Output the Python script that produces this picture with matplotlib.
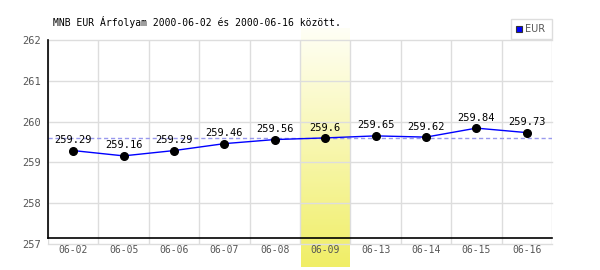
import matplotlib
matplotlib.use("Agg")
import matplotlib.pyplot as plt
import numpy as np
from matplotlib.colors import LinearSegmentedColormap
from matplotlib.patches import Rectangle

TITLE = "MNB EUR Árfolyam 2000-06-02 és 2000-06-16 között."
dates = ["06-02", "06-05", "06-06", "06-07", "06-08", "06-09", "06-13", "06-14", "06-15", "06-16"]
rates = [259.29, 259.16, 259.29, 259.46, 259.56, 259.6, 259.65, 259.62, 259.84, 259.73]
highlight_idx = 5
y_ticks = [257, 258, 259, 260, 261, 262]

MONO = "DejaVu Sans Mono"
GRID = "#dddddd"
W, H = 600, 270

fig = plt.figure(figsize=(6, 2.7), dpi=100)
ax = fig.add_axes([48 / W, 1 - 244 / H, 504 / W, 204 / H])
ax.set_xlim(-0.5, len(dates) - 0.5)
ax.set_ylim(y_ticks[0], y_ticks[-1])

# yellow gradient column behind the highlighted day (runs past the axes)
grad = LinearSegmentedColormap.from_list("hl", ["#fffff6", "#f0ee66"])
gax = fig.add_axes([301 / W, 1 - 267 / H, 49 / W, 239 / H], zorder=0)
gax.imshow(np.linspace(0, 1, 256).reshape(-1, 1), aspect="auto", cmap=grad, origin="upper")
gax.axis("off")
ax.set_zorder(1)
ax.patch.set_alpha(0)

# grid
for k in range(len(dates) + 1):
    ax.axvline(k - 0.5, color=GRID, lw=1, zorder=1)
for v in y_ticks:
    ax.axhline(v, color=GRID, lw=1, zorder=1, clip_on=False)

# reference line at the highlighted day's rate
ax.axhline(rates[highlight_idx], color="#9999ee", lw=1, ls=(0, (3, 2)), zorder=2)

x = np.arange(len(dates))
ax.plot(x, rates, color="#0000ff", lw=1, zorder=3)
ax.plot(x, rates, "o", color="black", ms=5.5, zorder=4)
for xi, r in zip(x, rates):
    ax.annotate(f"{r:g}", (xi, r), xytext=(0, 7.5), textcoords="offset points",
                ha="center", va="center", family=MONO, fontsize=7.5, color="black", zorder=5)

# axes lines: left spine and a black baseline a bit above the lowest grid line
for s in ax.spines.values():
    s.set_visible(False)
ax.plot([-0.5, -0.5], [y_ticks[0] + 6 / 40.8, y_ticks[-1]], color="black", lw=1.2, clip_on=False, zorder=6)
ax.plot([-0.5, len(dates) - 0.5], [y_ticks[0] + 6 / 40.8] * 2, color="black", lw=1.2, clip_on=False, zorder=6)

ax.set_xticks(x)
ax.set_xticklabels(dates, family=MONO, fontsize=7, color="#555555")
ax.set_yticks(y_ticks)
ax.set_yticklabels([str(v) for v in y_ticks], family=MONO, fontsize=7.5, color="#555555")
ax.tick_params(length=0)
ax.tick_params(axis="x", pad=1)
ax.tick_params(axis="y", pad=5)

fig.text(53 / W, 1 - 22 / H, TITLE, family=MONO, fontsize=7, color="black", va="center", ha="left")

# legend box
fig.patches.append(Rectangle((511 / W, 1 - 39 / H), 41 / W, 20 / H, transform=fig.transFigure,
                             facecolor="white", edgecolor=GRID, lw=1, zorder=10))
fig.patches.append(Rectangle((516 / W, 1 - 32 / H), 6 / W, 6 / H, transform=fig.transFigure,
                             facecolor="#0000ff", edgecolor="#333333", lw=0.8, zorder=11))
fig.text(525 / W, 1 - 29 / H, "EUR", family="DejaVu Sans", fontsize=7, color="#555555",
         va="center", ha="left", zorder=12)

fig.savefig("out.png", dpi=100)
